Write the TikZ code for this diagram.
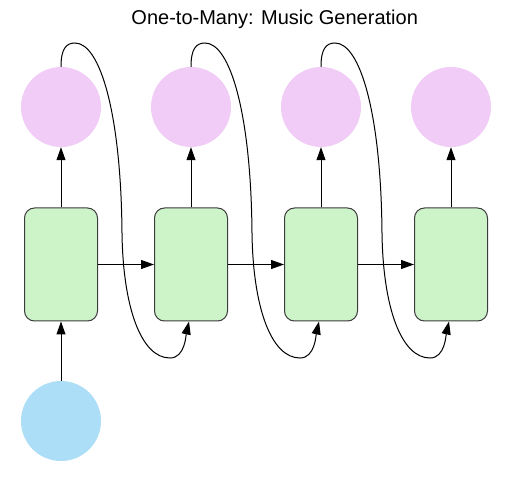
\documentclass[tikz,border=0pt]{standalone}
\usepackage{fontspec}
\setmainfont{Liberation Sans}
\usetikzlibrary{arrows.meta,calc}
\definecolor{pinkc}{RGB}{240,204,246}
\definecolor{greenc}{RGB}{205,243,201}
\definecolor{bluec}{RGB}{173,222,247}
\definecolor{boxline}{RGB}{60,60,60}
\tikzset{
  outc/.style={circle,fill=pinkc,minimum size=80pt,inner sep=0pt},
  inc/.style={circle,fill=bluec,minimum size=80pt,inner sep=0pt},
  cell/.style={rectangle,rounded corners=10pt,draw=boxline,fill=greenc,line width=1pt,minimum width=73pt,minimum height=113pt,inner sep=0pt},
  conn/.style={line width=1pt,-{Triangle[length=13pt,width=9pt]}},
}
\begin{document}
\begin{tikzpicture}[x=1pt,y=-1pt]
\useasboundingbox (0,0) rectangle (528,486);
\node[anchor=base,font=\fontsize{20pt}{24pt}\selectfont] (title) at (274.7,25) {One-to-Many: Music Generation};
\foreach \i/\x in {1/61,2/191,3/321,4/451}{
  \node[outc] (p\i) at (\x,107) {};
  \node[cell] (c\i) at (\x,264.5) {};
  \draw[conn] (c\i.north) -- (p\i.south);
}
\node[inc] (in) at (61,421) {};
\draw[conn] (in.north) -- (c1.south);
\foreach \i/\j in {1/2,2/3,3/4}{
  \draw[conn] (c\i.east) -- (c\j.west);
  \draw[conn] (p\i.north)
    .. controls ([shift={(0,-58)}]p\i.center) and ([shift={(5,-64)}]p\i.center) .. ([shift={(14,-64)}]p\i.center)
    .. controls ([shift={(39,-64)}]p\i.center) and ([shift={(60,6)}]p\i.center) .. ([shift={(61,126)}]p\i.center)
    .. controls ([shift={(62,200)}]p\i.center) and ([shift={(80,251)}]p\i.center) .. ([shift={(109,251)}]p\i.center)
    .. controls ([shift={(124,251)}]p\i.center) and ([shift={(125,228)}]p\i.center) .. ([xshift=-2pt]c\j.south);
}
\end{tikzpicture}
\end{document}
